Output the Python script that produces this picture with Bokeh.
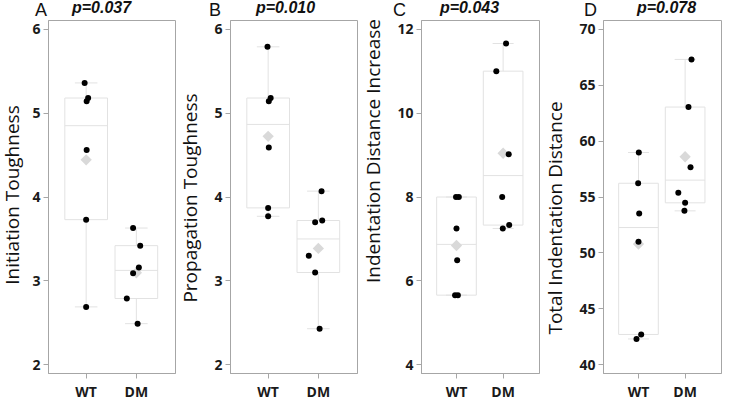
import math
from bokeh.plotting import figure
from bokeh.models import Range1d, FixedTicker, ColumnDataSource, Div
from bokeh.layouts import row, column
from bokeh.embed import file_html
from bokeh.resources import INLINE

# ---------------- data ----------------
groups = ["WT", "DM"]
letters = ["A", "B", "C", "D"]
p_values = ["p=0.037", "p=0.010", "p=0.043", "p=0.078"]
y_labels = ["Initiation Toughness", "Propagation Toughness",
            "Indentation Distance Increase", "Total Indentation Distance"]

a_wt = [5.36, 5.18, 5.14, 4.56, 3.73, 2.69]
a_dm = [3.63, 3.42, 3.16, 3.09, 2.79, 2.49]
b_wt = [5.79, 5.18, 5.14, 4.59, 3.87, 3.77]
b_dm = [4.07, 3.72, 3.70, 3.30, 3.10, 2.43]
c_wt = [8.00, 8.00, 7.25, 6.49, 5.66, 5.66]
c_dm = [11.66, 11.00, 9.02, 8.00, 7.33, 7.25]
d_wt = [58.98, 56.23, 53.53, 51.01, 42.71, 42.31]
d_dm = [67.30, 63.04, 57.65, 55.37, 54.48, 53.76]

# horizontal jitter of the points (in category units)
a_wt_jit = [-0.03, 0.04, 0.01, 0.01, 0.0, 0.0]
a_dm_jit = [-0.065, 0.077, 0.05, -0.065, -0.19, 0.025]
b_wt_jit = [-0.013, 0.05, 0.013, 0.013, 0.0, 0.0]
b_dm_jit = [0.064, 0.077, -0.064, -0.19, -0.064, 0.025]
c_wt_jit = [-0.01, 0.05, 0.0, 0.015, -0.03, 0.03]
c_dm_jit = [0.063, -0.146, 0.12, -0.02, 0.13, -0.007]
d_wt_jit = [0.007, -0.007, 0.015, 0.0, 0.058, -0.043]
d_dm_jit = [0.137, 0.072, 0.116, -0.146, 0.0, -0.015]

y_ticks_a = [2, 3, 4, 5, 6]
y_ticks_b = [2, 3, 4, 5, 6]
y_ticks_c = [4, 6, 8, 10, 12]
y_ticks_d = [40, 45, 50, 55, 60, 65, 70]

panels = [
    (a_wt, a_dm, a_wt_jit, a_dm_jit, y_ticks_a),
    (b_wt, b_dm, b_wt_jit, b_dm_jit, y_ticks_b),
    (c_wt, c_dm, c_wt_jit, c_dm_jit, y_ticks_c),
    (d_wt, d_dm, d_wt_jit, d_dm_jit, y_ticks_d),
]

# ---------------- layout / style ----------------
TOTAL_W = 727
HEAD_H = 19
H = 403 - HEAD_H
TOP = 1
BOTTOM = 27

lab_widths = [23, 23, 22, 22]          # narrow columns holding the y labels
lab_x = [12, 10, 11, 12]               # text centre inside those columns
lab_y = [176, 179, 132, 199]           # text centre, px from top
fig_widths = [157, 159, 159, 162]
left_borders = [25, 27, 37, 38]
right_borders = [5, 5, 4, 6]
letter_x = [35, 209, 393, 584]         # header, px from left
pval_x = [72, 256, 440, 637]

AXIS_GRAY = "#A6A6A6"
BOX_GRAY = "#E2E2E2"
MEAN_GRAY = "#D9D9D9"
TEXT = "#111111"
BOX_W = 0.85
CAP_W = 0.45


def pctl(vals, p):
    """SAS definition 5 percentile."""
    s = sorted(vals)
    n = len(s)
    np_ = n * p
    j = int(math.floor(np_))
    g = np_ - j
    if g > 0:
        return s[j]
    return (s[j - 1] + s[j]) / 2.0


def label_col(i):
    w = lab_widths[i]
    html = (
        f'<div style="position:relative;width:{w}px;height:{H}px;">'
        f'<span style="position:absolute;left:{lab_x[i]}px;top:{lab_y[i]}px;'
        f'transform:translate(-50%,-50%) rotate(-90deg);white-space:nowrap;'
        f"font-family:'Open Sans';font-size:19px;line-height:19px;color:{TEXT};\">"
        f'{y_labels[i]}</span></div>'
    )
    return Div(text=html, width=w, height=H, margin=0, styles={"overflow": "visible"})


def header():
    spans = []
    for i in range(4):
        spans.append(
            f'<span style="position:absolute;left:{letter_x[i]}px;top:0.5px;white-space:nowrap;'
            f"font-family:'Liberation Sans';font-size:18px;line-height:18px;color:{TEXT};\">"
            f'{letters[i]}</span>')
        spans.append(
            f'<span style="position:absolute;left:{pval_x[i]}px;top:0px;white-space:nowrap;'
            f"font-family:'Liberation Sans';font-size:16px;line-height:16px;font-weight:bold;"
            f'font-style:italic;color:{TEXT};">{p_values[i]}</span>')
    html = (f'<div style="position:relative;width:{TOTAL_W}px;height:{HEAD_H}px;">'
            + "".join(spans) + '</div>')
    return Div(text=html, width=TOTAL_W, height=HEAD_H, margin=0, styles={"overflow": "visible"})


def build(i):
    wt, dm, wt_j, dm_j, ticks = panels[i]
    lo, hi = ticks[0], ticks[-1]
    pad = 0.026 * (hi - lo)
    p = figure(width=fig_widths[i], height=H, output_backend="svg", toolbar_location=None,
               title_location=None,
               x_range=Range1d(0.25, 2.78), y_range=Range1d(lo - pad, hi + pad),
               min_border_left=left_borders[i], min_border_right=right_borders[i],
               min_border_top=TOP, min_border_bottom=BOTTOM)
    p.xgrid.visible = False
    p.ygrid.visible = False
    p.outline_line_color = AXIS_GRAY
    p.outline_line_width = 1

    for ax in (p.xaxis[0], p.yaxis[0]):
        ax.axis_line_color = AXIS_GRAY
        ax.major_tick_line_color = AXIS_GRAY
        ax.minor_tick_line_color = None
        ax.major_tick_out = 5
        ax.major_tick_in = 0
        ax.major_label_text_font = "Open Sans"
        ax.major_label_text_font_style = "bold"
        ax.major_label_text_font_size = "14px"
        ax.major_label_text_color = "#1a1a1a"
        ax.major_label_standoff = 3
    p.xaxis.ticker = FixedTicker(ticks=[1, 2])
    p.xaxis.major_label_overrides = {1: groups[0], 2: groups[1]}
    p.yaxis.ticker = FixedTicker(ticks=ticks)

    xs_c, q1s, q3s, meds, mins, maxs, means = [], [], [], [], [], [], []
    for k, vals in enumerate([wt, dm]):
        xs_c.append(k + 1)
        q1s.append(pctl(vals, 0.25))
        q3s.append(pctl(vals, 0.75))
        meds.append(pctl(vals, 0.5))
        mins.append(min(vals))
        maxs.append(max(vals))
        means.append(sum(vals) / len(vals))

    box = ColumnDataSource(dict(
        x=xs_c, q1=q1s, q3=q3s, med=meds, lo=mins, hi=maxs, mean=means,
        left=[x - BOX_W / 2 for x in xs_c], right=[x + BOX_W / 2 for x in xs_c],
        cl=[x - CAP_W / 2 for x in xs_c], cr=[x + CAP_W / 2 for x in xs_c]))

    p.segment(x0="x", y0="q3", x1="x", y1="hi", source=box, line_color=BOX_GRAY, line_width=1)
    p.segment(x0="x", y0="q1", x1="x", y1="lo", source=box, line_color=BOX_GRAY, line_width=1)
    p.segment(x0="cl", y0="hi", x1="cr", y1="hi", source=box, line_color=BOX_GRAY, line_width=1)
    p.segment(x0="cl", y0="lo", x1="cr", y1="lo", source=box, line_color=BOX_GRAY, line_width=1)
    p.quad(left="left", right="right", bottom="q1", top="q3", source=box,
           fill_color="white", fill_alpha=0.0, line_color=BOX_GRAY, line_width=1)
    p.segment(x0="left", y0="med", x1="right", y1="med", source=box,
              line_color=BOX_GRAY, line_width=1)
    p.scatter(x="x", y="mean", source=box, marker="square", size=8, angle=math.pi / 4,
              fill_color=MEAN_GRAY, line_color=None)
    px = [1 + j for j in wt_j] + [2 + j for j in dm_j]
    py = list(wt) + list(dm)
    p.scatter(x=px, y=py, size=6, fill_color="black", line_color=None)
    return p


children = []
for i in range(4):
    children.append(label_col(i))
    children.append(build(i))

layout = column(header(), row(*children, spacing=0), spacing=0)
open("out.html", "w").write(file_html(layout, INLINE))
